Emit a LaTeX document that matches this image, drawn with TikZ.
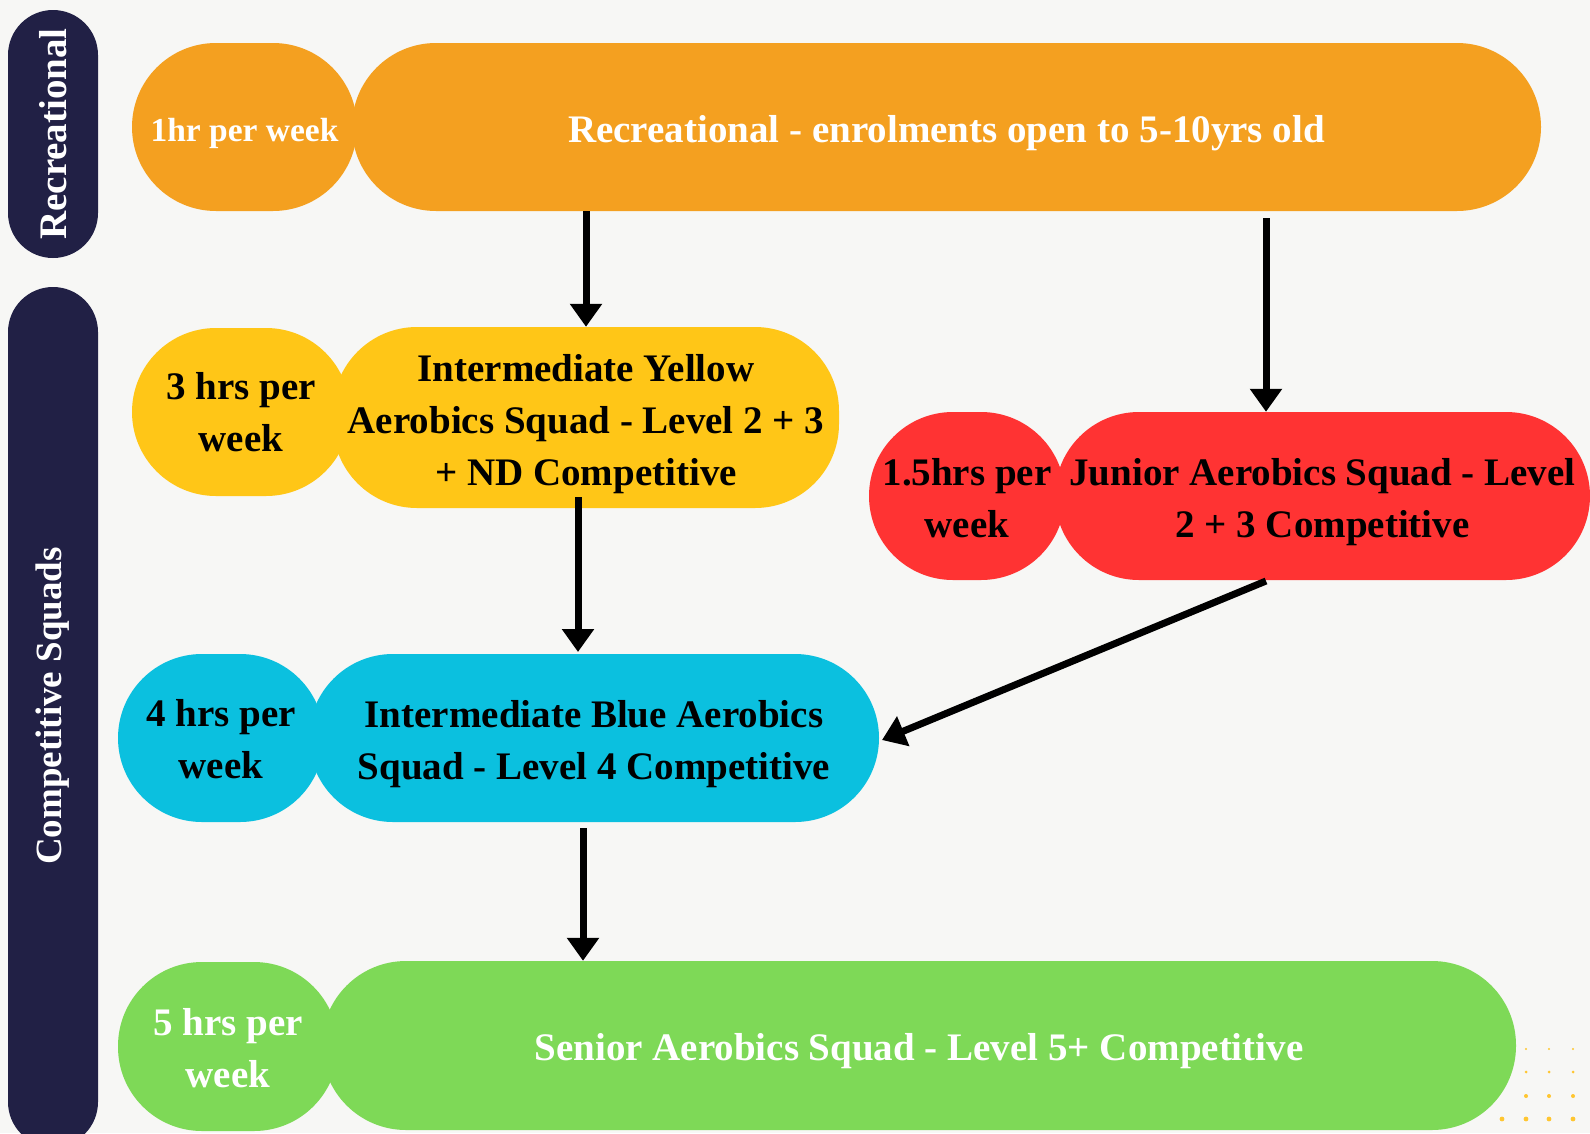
\documentclass[tikz,border=0pt]{standalone}
\usepackage{fontspec}
\setmainfont{Liberation Serif}
\usetikzlibrary{arrows.meta}
\definecolor{bgc}{HTML}{F7F7F5}
\definecolor{navy}{HTML}{212045}
\definecolor{orng}{HTML}{F4A020}
\definecolor{yell}{HTML}{FFC617}
\definecolor{redc}{HTML}{FF3333}
\definecolor{blue}{HTML}{0BC0DF}
\definecolor{gren}{HTML}{7ED957}
\definecolor{dotc}{HTML}{FFC630}
\begin{document}
\begin{tikzpicture}[x=1pt,y=-1pt,
  pill/.style={rectangle,rounded corners=84pt,inner sep=0pt},
  txt/.style={align=center,inner sep=0pt,font=\bfseries\fontsize{39}{52}\selectfont},
  big/.style={label={[txt,yshift=-6pt,#1]center:}},
  side/.style={rectangle,rounded corners=45pt,fill=navy,inner sep=0pt,minimum width=90pt},
  sidetext/.style={text=white,rotate=90,inner sep=0pt},
  arr/.style={line width=7pt,-{Triangle[width=31pt,length=23pt]}},
  dot/.style={fill=dotc}]
\fill[bgc] (0,0) rectangle (1590,1133);
\useasboundingbox (0,0) rectangle (1590,1133);

% side bars
\node[side,minimum height=248pt] (rec) at (53,134) {};
\node[sidetext,font=\bfseries\fontsize{39}{45}\selectfont] (rect) at (rec.center) {Recreational};
\node[side,minimum height=860pt] (comp) at (53,717) {};
\node[sidetext,font=\bfseries\fontsize{37}{44}\selectfont] (compt) at (53,706) {Competitive Squads};

% orange
\node[pill,fill=orng,minimum width=225pt,minimum height=168pt,
  label={[txt,text=white,yshift=-6pt,font=\bfseries\fontsize{33.5}{40}\selectfont]center:1hr per week}] (osm) at (244.5,127) {};
\node[pill,fill=orng,minimum width=1189pt,minimum height=168pt,
  label={[txt,text=white,yshift=-6pt]center:Recreational - enrolments open to 5-10yrs old}] (obig) at (946.5,127) {};

% yellow
\node[pill,fill=yell,minimum width=218pt,minimum height=168pt,
  label={[txt,yshift=-0.5pt]center:{3 hrs per\\week}}] (ysm) at (241,412) {};
\node[pill,fill=yell,minimum width=506pt,minimum height=181pt,
  label={[txt,yshift=-7pt]center:{Intermediate Yellow\\Aerobics Squad - Level 2 + 3\\+ ND Competitive}}] (ybig) at (586,417.5) {};

% red
\node[pill,fill=redc,minimum width=196pt,minimum height=168pt,
  label={[txt,yshift=-2pt]center:{1.5hrs per\\week}}] (rsm) at (967,496) {};
\node[pill,fill=redc,minimum width=535pt,minimum height=168pt,
  label={[txt,yshift=-6pt]center:{Junior Aerobics Squad - Level\\2 + 3 Competitive}}] (rbig) at (1322.5,496) {};

% blue
\node[pill,fill=blue,minimum width=206pt,minimum height=168pt,
  label={[txt,yshift=-1.5pt]center:{4 hrs per\\week}}] (bsm) at (221,738) {};
\node[pill,fill=blue,minimum width=570pt,minimum height=168pt,
  label={[txt,yshift=-6pt]center:{Intermediate Blue Aerobics\\Squad - Level 4 Competitive}}] (bbig) at (594,738) {};

% green
\node[pill,fill=gren,minimum width=220pt,minimum height=169pt,
  label={[txt,text=white,yshift=-2pt]center:{5 hrs per\\week}}] (gsm) at (228,1046.5) {};
\node[pill,fill=gren,minimum width=1194pt,minimum height=169pt,
  label={[txt,text=white,yshift=-6pt]center:Senior Aerobics Squad - Level 5+ Competitive}] (gbig) at (919,1045.5) {};

% arrows
\coordinate (a2s) at (1266,218);
\coordinate (a3s) at (578,497);
\coordinate (a3e) at (578,652);
\coordinate (a4s) at (1266,581);
\coordinate (a5s) at (583,828);
\draw[arr] (obig.south -| ybig.north) -- (ybig.north);
\draw[arr] (a2s) -- (a2s |- rbig.north);
\draw[arr] (a3s) -- (a3e);
\draw[arr] (a4s) -- (882,740);
\draw[arr] (a5s) -- (a5s |- gbig.north);

% dots
\foreach \x in {1526,1549,1573} \fill[dot] (\x,1049) circle (1.2pt);
\foreach \x in {1526,1549,1573} \fill[dot] (\x,1072) circle (1.5pt);
\foreach \x in {1526,1549,1573} \fill[dot] (\x,1096) circle (2pt);
\foreach \x in {1502,1526,1549,1573} \fill[dot] (\x,1119) circle (2.4pt);
\end{tikzpicture}
\end{document}
